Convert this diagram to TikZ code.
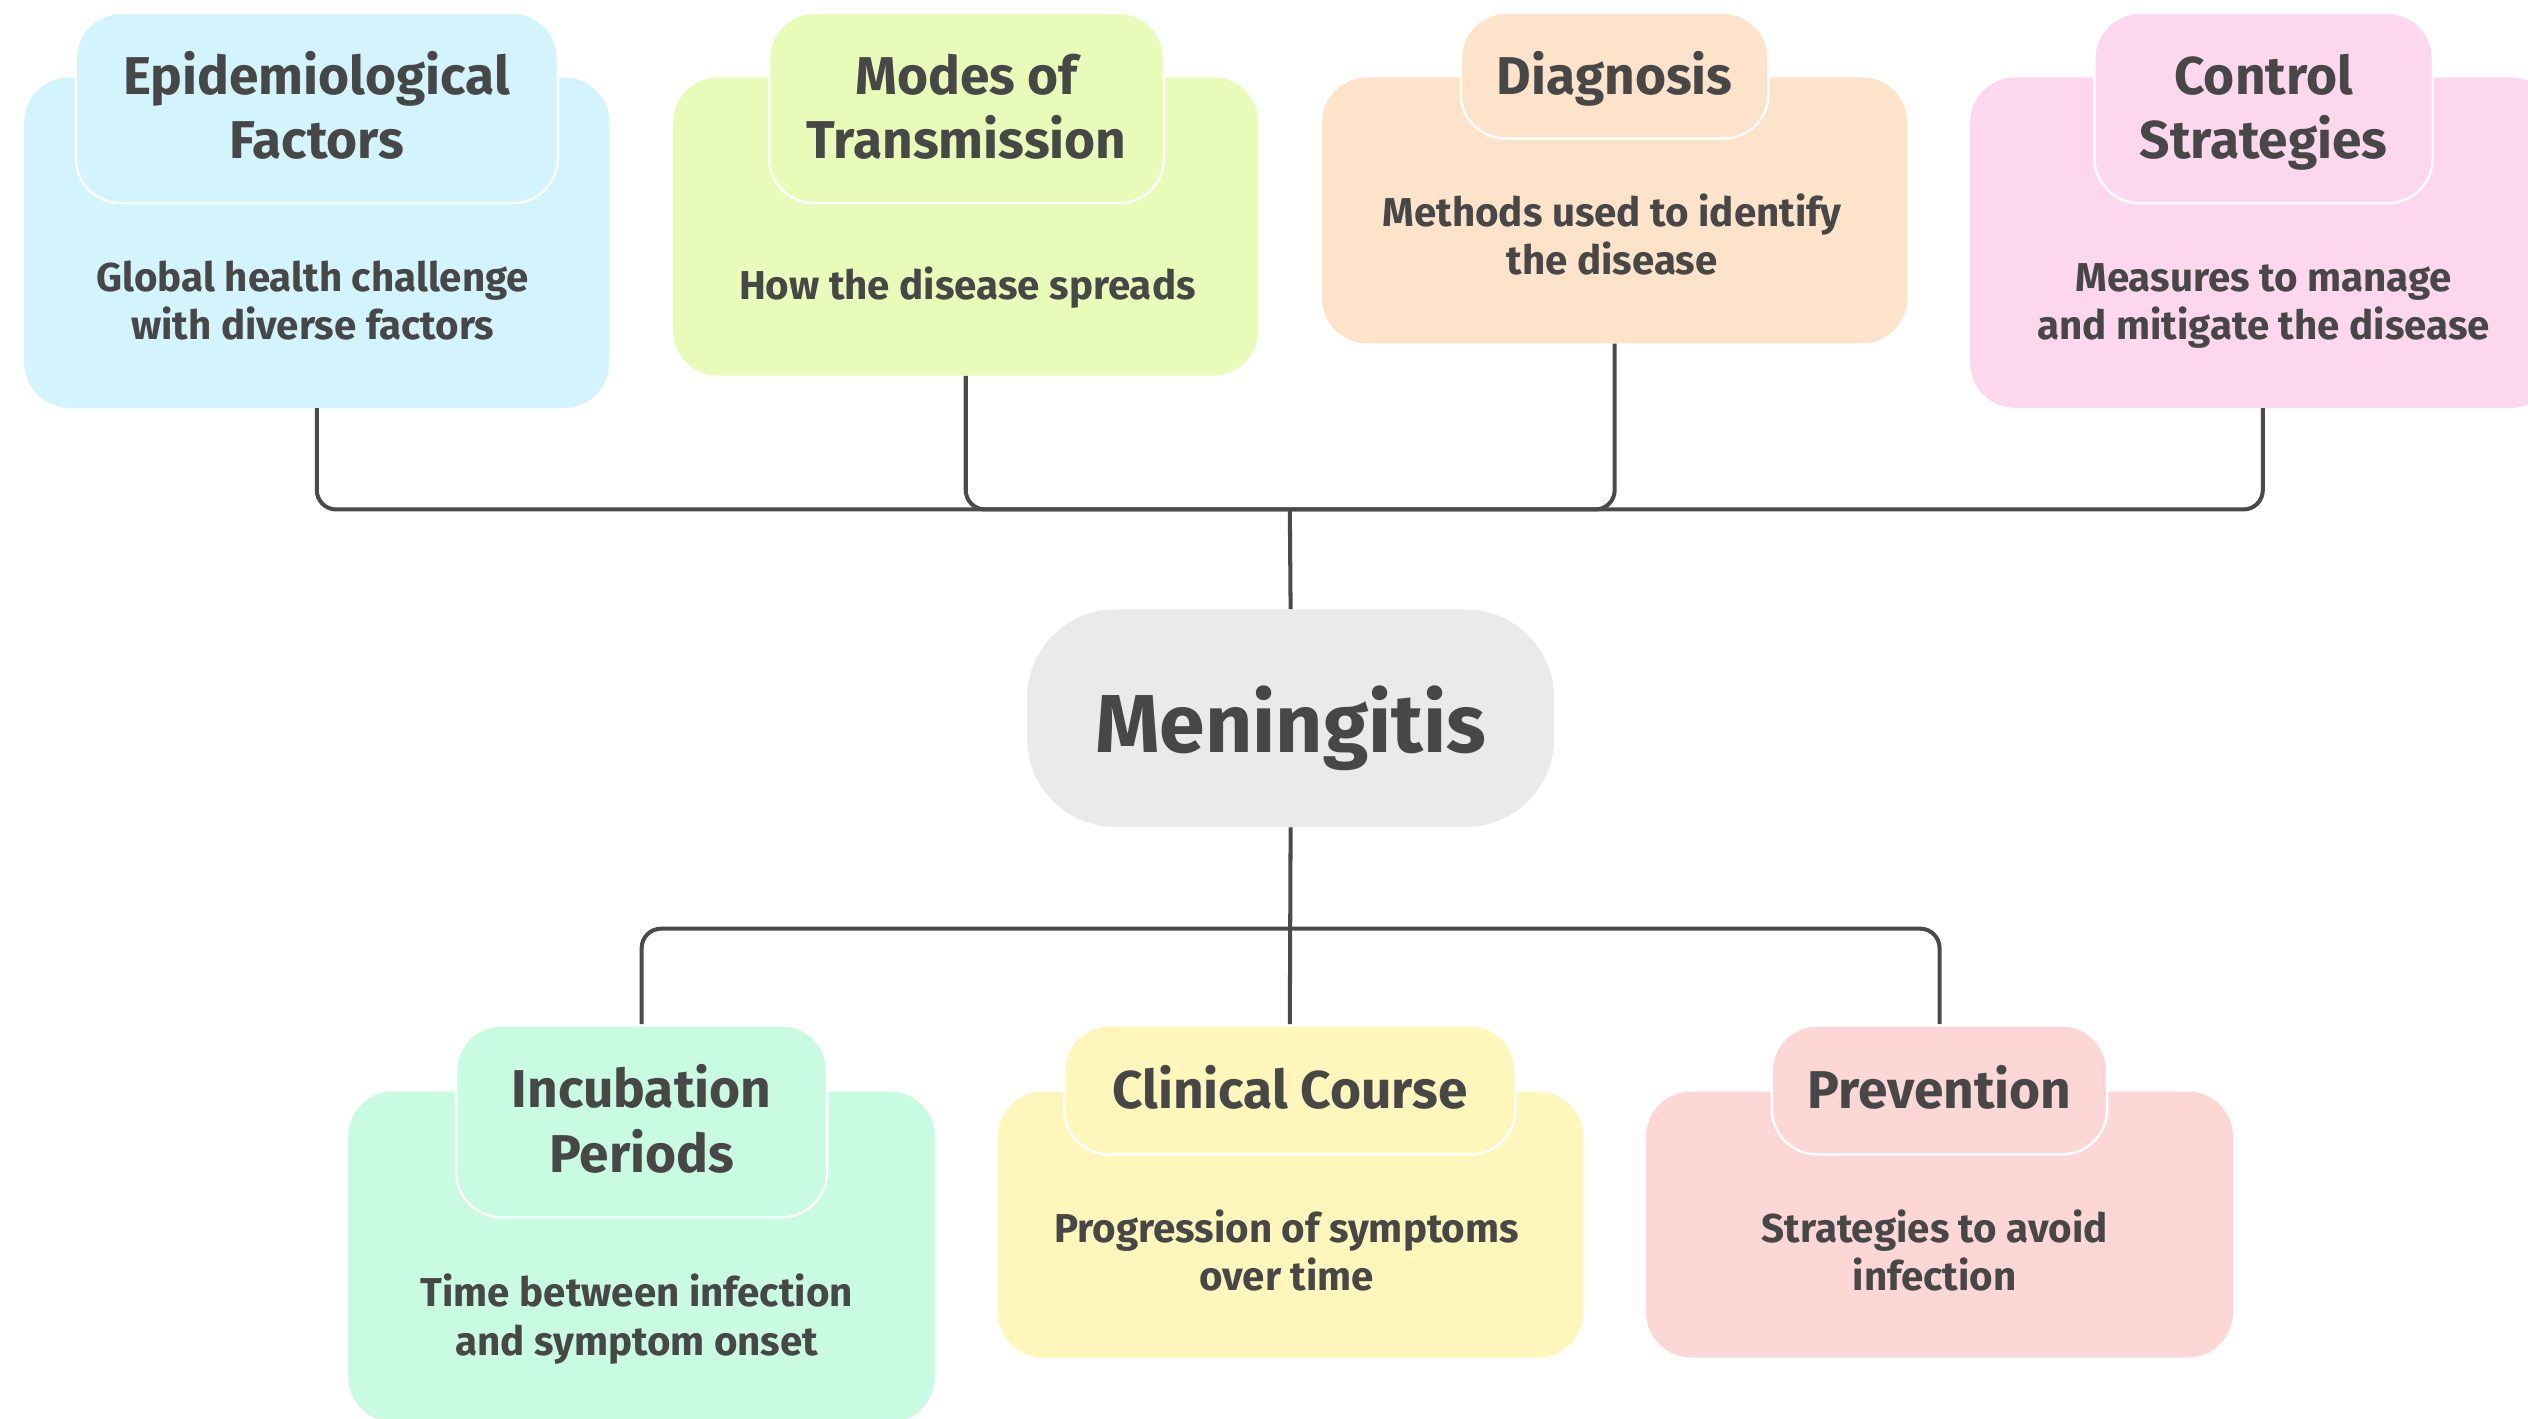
\documentclass[tikz,border=0pt]{standalone}
\usepackage{fontspec}
\setmainfont{Fira Sans}
\usetikzlibrary{positioning}
\definecolor{ink}{HTML}{474747}
\definecolor{wire}{HTML}{4A4A4A}
\definecolor{epiC}{HTML}{D3F3FD}
\definecolor{modC}{HTML}{E9FBB8}
\definecolor{diaC}{HTML}{FEE3CB}
\definecolor{ctlC}{HTML}{FDD7EE}
\definecolor{menC}{HTML}{EAEAEA}
\definecolor{incC}{HTML}{C8FBE1}
\definecolor{cliC}{HTML}{FEF6BA}
\definecolor{preC}{HTML}{FDD6D6}
\tikzset{
bodybox/.style={
  rectangle,
  rounded corners=28pt,
  minimum width=363pt,
  inner sep=0pt
  },
headbox/.style={
  rectangle,
  rounded corners=28pt,
  draw=white,
  line width=1.5pt,
  inner sep=0pt,
  align=center,
  text=ink,
  text height=23pt,
  text depth=0pt,
  font=\fontsize{33}{40}\selectfont\bfseries
  },
headtwo/.style={headbox, text height=63pt},
notetext/.style={
  align=center,
  inner sep=0pt,
  text=ink,
  text height=17pt,
  text depth=0pt,
  font=\fontsize{25}{30}\selectfont\bfseries
  },
notetwo/.style={notetext, text height=47pt},
conn/.style={
  draw=wire,
  line width=2.5pt,
  rounded corners=12pt
  }
}

\begin{document}
\begin{tikzpicture}[x=1pt, y=-1pt]
\useasboundingbox (0,0) rectangle (1568,880);
\clip (0,0) rectangle (1568,880);

\node[bodybox, fill=epiC, minimum height=205pt] (epi) at (196.5,150.5) {};
\node[bodybox, fill=modC, minimum height=185pt] (mod) at (599,140.5) {};
\node[bodybox, fill=diaC, minimum height=165pt] (dia) at (1001.5,130.5) {};
\node[bodybox, fill=ctlC, minimum height=205pt] (ctl) at (1403.5,150.5) {};

\node[headtwo, fill=epiC, minimum width=299pt, minimum height=118pt]
  (epiT) at (196.5,67) {Epidemiological\\Factors};
\node[headtwo, fill=modC, minimum width=245pt, minimum height=118pt]
  (modT) at (599.5,67) {Modes of\\Transmission};
\node[headbox, fill=diaC, minimum width=191pt, minimum height=78pt]
  (diaT) at (1001.5,47) {Diagnosis};
\node[headtwo, fill=ctlC, minimum width=210pt, minimum height=118pt]
  (ctlT) at (1404,67) {Control\\Strategies};

\node[notetwo] (epiD) at (194,187) {Global health challenge\\with diverse factors};
\node[notetext] (modD) at (600,177) {How the disease spreads};
\node[notetwo] (diaD) at (1000,147) {Methods used to identify\\the disease};
\node[notetwo] (ctlD) at (1404,187) {Measures to manage\\and mitigate the disease};

\node[rectangle, rounded corners=55pt, fill=menC, minimum width=327pt,
  minimum height=135pt, text=ink, text height=42pt, text depth=0pt,
  font=\fontsize{51}{56}\selectfont\bfseries]
  (men) at (800.5,445.5) {Meningitis};

\node[bodybox, fill=incC, minimum width=364pt, minimum height=205pt] (inc) at (398,779.5) {};
\node[bodybox, fill=cliC, minimum height=165pt] (cli) at (800.5,759.5) {};
\node[bodybox, fill=preC, minimum width=364pt, minimum height=165pt] (pre) at (1203,759.5) {};

\node[headtwo, fill=incC, minimum width=230pt, minimum height=119pt]
  (incT) at (398,695.5) {Incubation\\Periods};
\node[headbox, fill=cliC, minimum width=280pt, minimum height=80pt]
  (cliT) at (800,676) {Clinical Course};
\node[headbox, fill=preC, minimum width=208pt, minimum height=80pt]
  (preT) at (1203,676) {Prevention};

\node[notetwo] (incD) at (395,817) {Time between infection\\and symptom onset};
\node[notetwo] (cliD) at (798,777) {Progression of symptoms\\over time};
\node[notetwo] (preD) at (1200,777) {Strategies to avoid\\infection};

\coordinate (topbus) at (800,316);
\coordinate (botbus) at (800,576);

\draw[conn] (men.north) -- (topbus);
\draw[conn] (topbus) -| (epi.south);
\draw[conn] (topbus) -| (mod.south);
\draw[conn] (topbus) -| (dia.south);
\draw[conn] (topbus) -| (ctl.south);

\draw[conn] (men.south) -- (cliT.north);
\draw[conn] (botbus) -| (incT.north);
\draw[conn] (botbus) -| (preT.north);
\end{tikzpicture}
\end{document}
